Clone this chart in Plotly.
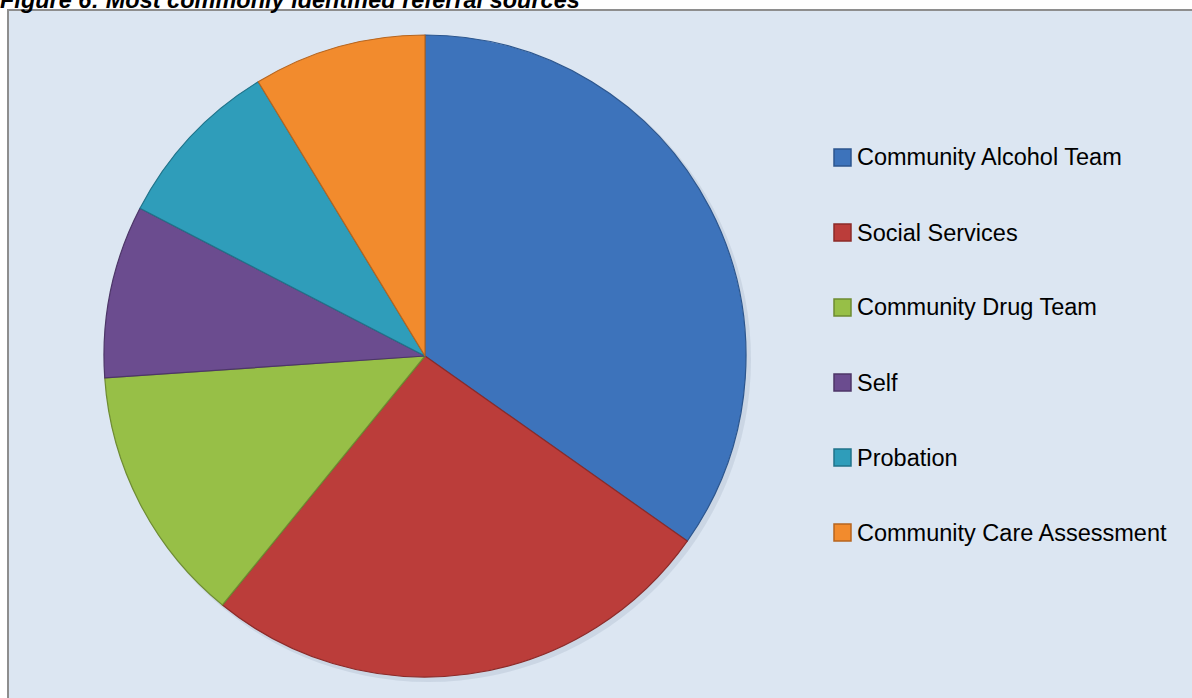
import plotly.graph_objects as go

# Referral sources and number of referrals from each
categories = [
    "Community Alcohol Team",
    "Social Services",
    "Community Drug Team",
    "Self",
    "Probation",
    "Community Care Assessment",
]
referrals = [8, 6, 3, 2, 2, 2]
slice_colors = ["#3d73bb", "#bb3d3a", "#97bf47", "#6b4c8f", "#2f9dba", "#f28b2d"]
edge_colors = ["#2c568e", "#8c2b29", "#6e8c32", "#4d3668", "#21738a", "#b6651f"]
title_text = "Figure 6: Most commonly identified referral sources"

W, H = 1192, 698


def px(x):
    return x / W


def py(y):
    return 1 - y / H


fig = go.Figure()

fig.add_trace(
    go.Pie(
        labels=categories,
        values=referrals,
        sort=False,
        direction="clockwise",
        rotation=0,
        textinfo="none",
        hoverinfo="label+value+percent",
        marker=dict(colors=slice_colors, line=dict(color=edge_colors, width=1.2)),
        domain=dict(x=[px(104), px(746)], y=[py(677), py(35)]),
        showlegend=False,
    )
)

shapes = [
    # chart area
    dict(
        type="rect", xref="paper", yref="paper",
        x0=px(8), x1=px(1200), y0=py(10), y1=py(710),
        fillcolor="#dce6f2", line=dict(color="#8e8e8e", width=2), layer="below",
    ),
    # faint drop shadow under the pie
    dict(
        type="circle", xref="paper", yref="paper",
        x0=px(106), x1=px(751), y0=py(682), y1=py(37),
        fillcolor="rgba(60,80,110,0.10)", line=dict(width=0), layer="below",
    ),
]

annotations = [
    dict(
        text=title_text, xref="paper", yref="paper", x=px(-2), y=1,
        xanchor="left", yanchor="bottom", yshift=-15, showarrow=False,
        font=dict(family="Liberation Sans", size=23.5, color="#000000",
                  weight="bold", style="italic"),
    )
]

# legend entries drawn alongside the pie
for i, (name, col, edge) in enumerate(zip(categories, slice_colors, edge_colors)):
    cy = 157.5 + 75 * i
    shapes.append(
        dict(
            type="rect", xref="paper", yref="paper",
            x0=px(834), x1=px(851), y0=py(cy + 8.5), y1=py(cy - 8.5),
            fillcolor=col, line=dict(color=edge, width=1.5),
        )
    )
    annotations.append(
        dict(
            text=name, xref="paper", yref="paper", x=px(855), y=py(cy),
            xanchor="left", yanchor="middle", showarrow=False,
            font=dict(family="Liberation Sans", size=23.5, color="#000000"),
        )
    )

fig.update_layout(
    width=W, height=H,
    margin=dict(l=0, r=0, t=0, b=0),
    paper_bgcolor="#ffffff",
    plot_bgcolor="#ffffff",
    shapes=shapes,
    annotations=annotations,
    showlegend=False,
)

fig.write_html("out.html")
